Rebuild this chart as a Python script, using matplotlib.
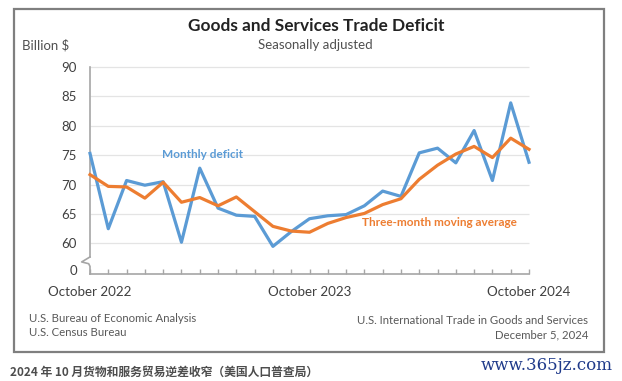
import numpy as np
import matplotlib.pyplot as plt
from matplotlib.patches import Rectangle
from matplotlib.lines import Line2D
import matplotlib.transforms as mtransforms

# Monthly goods and services trade deficit, billion $ (seasonally adjusted)
months = ['2022-10', '2022-11', '2022-12', '2023-01', '2023-02', '2023-03',
          '2023-04', '2023-05', '2023-06', '2023-07', '2023-08', '2023-09',
          '2023-10', '2023-11', '2023-12', '2024-01', '2024-02', '2024-03',
          '2024-04', '2024-05', '2024-06', '2024-07', '2024-08', '2024-09',
          '2024-10']
monthly_deficit = [75.3, 62.5, 70.7, 69.9, 70.5, 60.2, 72.8, 66.0, 64.8,
                   64.6, 59.5, 62.0, 64.2, 64.7, 64.9, 66.4, 68.9, 68.0,
                   75.4, 76.2, 73.7, 79.2, 70.7, 83.9, 73.8]
three_month_avg = [71.7, 69.7, 69.6, 67.7, 70.4, 67.0, 67.8, 66.4, 67.9,
                   65.4, 62.9, 62.1, 61.9, 63.4, 64.4, 65.1, 66.6, 67.6,
                   70.9, 73.3, 75.2, 76.5, 74.6, 77.9, 76.0]
y_ticks = [60, 65, 70, 75, 80, 85, 90]
x_tick_labels = {'2022-10': 'October 2022', '2023-10': 'October 2023',
                 '2024-10': 'October 2024'}

BLUE = '#5b9bd5'
ORANGE = '#ed7d31'
GRAY_TXT = '#404040'
AXIS_GRAY = '#a6a6a6'

plt.rcParams['font.family'] = ['Lato', 'DejaVu Sans']

W, H = 622, 381
fig = plt.figure(figsize=(W / 100, H / 100), dpi=100)


def fx(px):
    return px / W


def fy(py):
    return 1 - py / H


# outer frame
fig.add_artist(Rectangle((fx(14), fy(352)), fx(604) - fx(14), fy(9) - fy(352),
                         transform=fig.transFigure, fill=False,
                         edgecolor='#7f7f7f', linewidth=1.6))

ax = fig.add_axes([fx(90), fy(274), fx(529) - fx(90), fy(67) - fy(274)])
x = np.arange(len(months))

ax.hlines(y_ticks, 0, len(months) - 1, color='#e4e4e4', linewidth=0.9,
          clip_on=False, zorder=0)
ax.plot(x, monthly_deficit, color=BLUE, linewidth=2.3, clip_on=False, zorder=3)
ax.plot(x, three_month_avg, color=ORANGE, linewidth=2.3, clip_on=False, zorder=4)

ax.set_xlim(0, len(months) - 1)
ax.set_ylim(54.8, 90)

# broken y axis: "0" sits just above the baseline
ax.set_yticks([55.5] + y_ticks)
ax.set_yticklabels(['0'] + [str(v) for v in y_ticks])
ax.tick_params(axis='y', length=0, pad=9.5, labelsize=9.5, labelcolor=GRAY_TXT)

ax.set_xticks(x)
ax.set_xticklabels([x_tick_labels.get(m, '') for m in months])
ax.tick_params(axis='x', direction='in', length=3.5, width=1, color=AXIS_GRAY,
               pad=8.5, labelsize=9.6, labelcolor=GRAY_TXT)

for side in ['top', 'right']:
    ax.spines[side].set_visible(False)
ax.spines['left'].set_color(AXIS_GRAY)
ax.spines['left'].set_linewidth(1.2)
ax.spines['left'].set_bounds(57.7, 90)
ax.spines['bottom'].set_color(AXIS_GRAY)
ax.spines['bottom'].set_linewidth(1.2)

# axis break squiggle
trans = mtransforms.blended_transform_factory(ax.transAxes, ax.transData)
ax.add_line(Line2D([0, -0.019, -0.003, 0, 0], [57.7, 56.85, 56.55, 56.1, 54.8],
                   transform=trans, color=AXIS_GRAY, linewidth=1.2,
                   clip_on=False))

# titles
fig.text(fx(316), fy(26), 'Goods and Services Trade Deficit', ha='center',
         va='center', fontsize=12.4, fontweight='bold', color='#222222')
fig.text(fx(315), fy(45), 'Seasonally adjusted', ha='center', va='center',
         fontsize=9.5, color='#505050')
fig.text(fx(22), fy(45), 'Billion $', ha='left', va='center', fontsize=9.5,
         color='#505050')

# series labels
fig.text(fx(162), fy(155), 'Monthly deficit', ha='left', va='center',
         fontsize=8.5, fontweight='bold', color=BLUE)
fig.text(fx(362), fy(223), 'Three-month moving average', ha='left',
         va='center', fontsize=8.5, fontweight='bold', color=ORANGE)

# sources
fig.text(fx(29), fy(318), 'U.S. Bureau of Economic Analysis', ha='left',
         va='center', fontsize=8.2, color='#595959')
fig.text(fx(29), fy(333), 'U.S. Census Bureau', ha='left', va='center',
         fontsize=8.2, color='#595959')
fig.text(fx(588), fy(321), 'U.S. International Trade in Goods and Services',
         ha='right', va='center', fontsize=8.2, color='#595959')
fig.text(fx(588), fy(335), 'December 5, 2024', ha='right', va='center',
         fontsize=8.2, color='#595959')

# caption and watermark outside the frame
fig.text(fx(10), fy(372), '2024 年 10 月货物和服务贸易逆差收窄（美国人口普查局）',
         ha='left', va='center', fontsize=8.5, fontweight='bold', color='#4d4d4d',
         family=['Noto Sans CJK SC', 'DejaVu Sans'])
fig.text(fx(613), fy(365), 'www.365jz.com', ha='right', va='center',
         fontsize=12, color='#1f3a8a', family=['DejaVu Serif'])

fig.savefig('out.png', dpi=100)
